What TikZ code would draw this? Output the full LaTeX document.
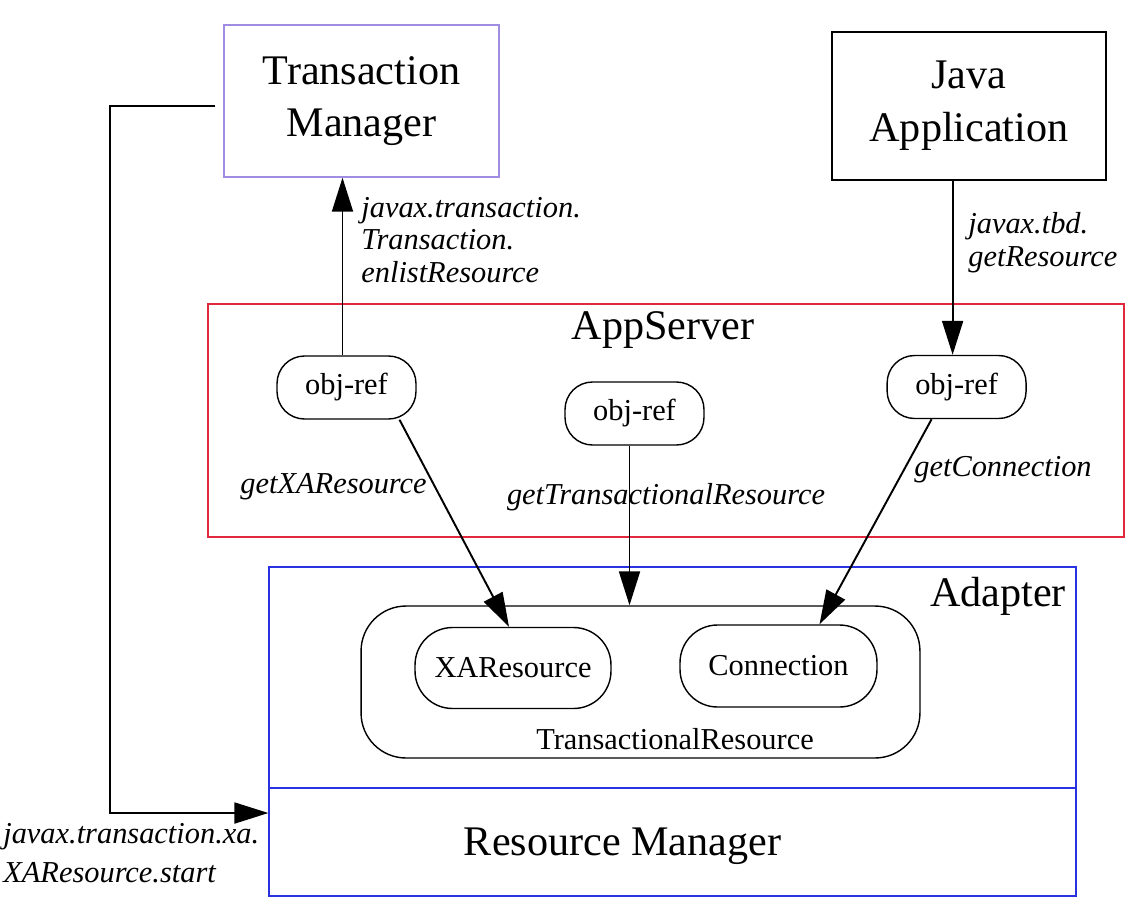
\documentclass[tikz,border=0pt]{standalone}
\usepackage{fontspec}
\setmainfont{Liberation Serif}
\usetikzlibrary{arrows.meta,calc}
\definecolor{tmcol}{RGB}{160,140,225}
\definecolor{ascol}{RGB}{225,40,60}
\definecolor{adcol}{RGB}{40,50,225}
\begin{document}
\begin{tikzpicture}[x=0.02cm,y=-0.02cm,
  bigtext/.style={font=\fontsize{24}{30}\selectfont},
  smalltext/.style={font=\fontsize{17.3}{19}\selectfont},
  lbl/.style={font=\fontsize{17.3}{18.6}\selectfont\itshape, align=left, inner sep=0pt},
  topbox/.style={draw, line width=0.8pt, minimum width=5.5cm, minimum height=3.04cm, align=center, bigtext},
  objref/.style={draw, line width=0.8pt, rounded corners=0.55cm, minimum width=2.78cm, minimum height=1.26cm, smalltext},
  innerbox/.style={draw, line width=0.8pt, rounded corners=0.75cm, minimum width=3.92cm, minimum height=1.62cm, smalltext},
  cluster/.style={line width=0.8pt, inner sep=0pt},
  arrowline/.style={line width=1.1pt, -{Triangle[length=0.68cm,width=0.42cm]}},
]
\useasboundingbox (0,0) rectangle (1138,906);

% clusters
\node[cluster, draw=ascol, minimum width=18.32cm, minimum height=4.66cm] (appsrv) at (666,420.5) {};
\node[bigtext] (appsrvtitle) at (663,330) {AppServer};
\node[cluster, draw=adcol, minimum width=16.14cm, minimum height=4.42cm] (adapter) at (672.5,677.5) {};
\node[bigtext, anchor=east] (adaptertitle) at (1072,596) {Adapter};
\node[cluster, draw=adcol, minimum width=16.14cm, minimum height=2.16cm] (rm) at (672.5,842) {};
\node[bigtext] (rmtext) at (622.6,846) {Resource Manager};

% transactional resource
\node[draw, line width=0.8pt, rounded corners=0.9cm, minimum width=11.18cm, minimum height=3.04cm] (tr) at (640.5,682) {};
\node[smalltext] (trlabel) at (675,739) {TransactionalResource};
\node[innerbox] (xa) at (513,668) {XAResource};
\node[innerbox, minimum width=3.94cm, minimum height=1.64cm] (cn) at (778.5,666) {Connection};

% top boxes
\node[topbox, draw=tmcol] (tm) at (361.5,101) {Transaction\\Manager};
\node[topbox, minimum width=5.48cm, minimum height=2.96cm] (ja) at (969,106) {Java\\Application};

% obj-refs
\node[objref] (obj1) at (346.5,387.5) {obj-ref};
\node[objref] (obj2) at (634.5,413.5) {obj-ref};
\node[objref] (obj3) at (956.6,387) {obj-ref};

% connectors
\draw[arrowline] ([xshift=-0.08cm]obj1.north) -- ([xshift=-0.08cm]obj1.north |- tm.south);
\draw[arrowline] ([xshift=-0.08cm]obj3.north |- ja.south) -- ([xshift=-0.08cm]obj3.north);
\draw[arrowline] ([xshift=1.06cm]obj1.south) -- ([xshift=-0.08cm]xa.north);
\draw[arrowline] ([xshift=-0.1cm]obj2.south) -- ([xshift=-0.1cm]obj2.south |- tr.north);
\draw[arrowline] ([xshift=-0.5cm]obj3.south) -- ([xshift=0.82cm]cn.north);

\coordinate (tmout) at ([xshift=-0.16cm,yshift=-0.1cm]tm.west);
\coordinate (rmin) at ([yshift=0.58cm]rm.west);
\coordinate (bend) at (110,0);
\draw[arrowline] (tmout) -- (tmout -| bend) |- (rmin);

% labels
\node[lbl, anchor=west] (lenlist) at (361,240) {javax.transaction.\\Transaction.\\enlistResource};
\node[lbl, anchor=west] (ltbd) at (968,243) {javax.tbd.\\getResource};
\node[lbl, anchor=east] (lxa) at (427,487) {getXAResource};
\node[lbl] (ltr) at (666,497) {getTransactionalResource};
\node[lbl] (lgc) at (1003,470) {getConnection};
\node[lbl, anchor=west, font=\fontsize{17.3}{22}\selectfont\itshape] (lstart) at (3,853) {javax.transaction.xa.\\XAResource.start};
\end{tikzpicture}
\end{document}
